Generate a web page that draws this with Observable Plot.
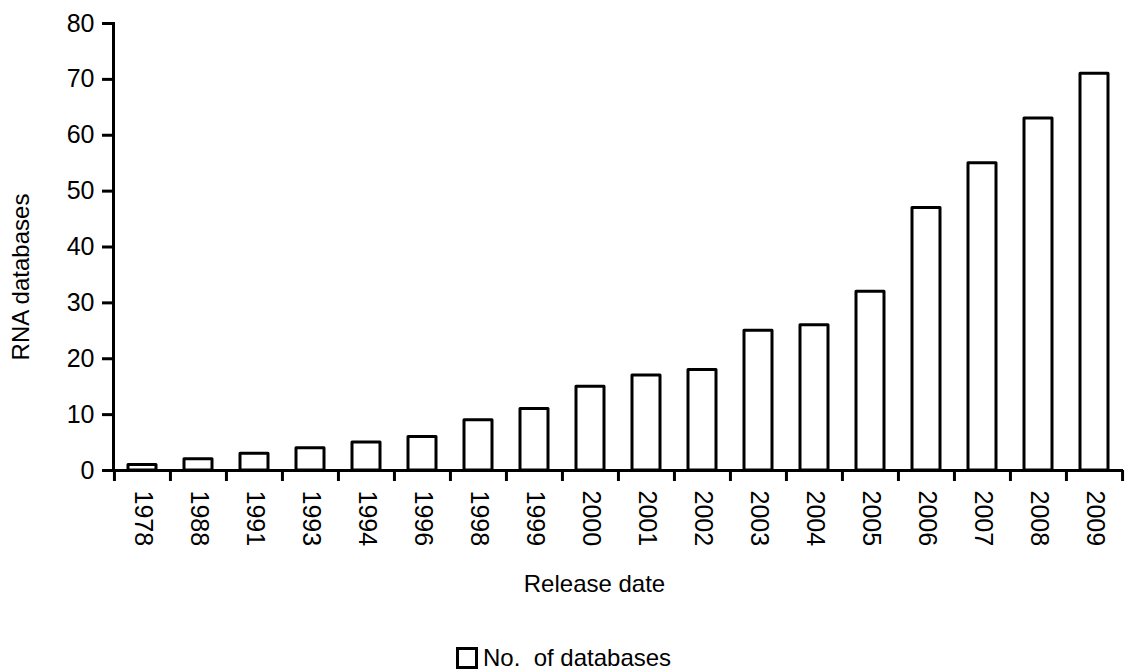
<!DOCTYPE html>
<html>
<head>
<meta charset="utf-8">
<script src="https://cdn.jsdelivr.net/npm/d3@7"></script>
<script src="https://cdn.jsdelivr.net/npm/@observablehq/plot@0.6"></script>
<style>
  html, body { margin: 0; padding: 0; background: #fff; }
  body { width: 1128px; height: 670px; overflow: hidden; font-family: "Liberation Sans", Arial, sans-serif; }
  #legend { position: relative; height: 30px; }
  #legend .item { position: absolute; left: 456px; top: 5px; display: flex; align-items: center; font-size: 24px; line-height: 25px; color: #000; }
  #legend .swatch { width: 16px; height: 16px; border: 3px solid #000; background: #fff; margin-right: 5px; }
</style>
</head>
<body>
<div id="chart"></div>
<div id="legend"><div class="item"><span class="swatch"></span><span>No.&nbsp; of databases</span></div></div>
<script>
const years = ["1978","1988","1991","1993","1994","1996","1998","1999","2000","2001","2002","2003","2004","2005","2006","2007","2008","2009"];
const counts = [1,2,3,4,5,6,9,11,15,17,18,25,26,32,47,55,63,71];
const yTicks = [0,10,20,30,40,50,60,70,80];
const xTitle = "Release date";
const yTitle = "RNA databases";

const data = years.map((y, i) => ({year: y, count: counts[i]}));
const step = (1128 - 113 - 5) / years.length;

const chart = Plot.plot({
  width: 1128,
  height: 640,
  marginLeft: 113,
  marginRight: 5,
  marginTop: 23,
  marginBottom: 170,
  style: {fontFamily: '"Liberation Sans", Arial, sans-serif', fontSize: "25px", color: "#000", background: "#fff"},
  x: {domain: years, paddingInner: 0.5, paddingOuter: 0.25, axis: null},
  y: {domain: [0, 80], axis: null},
  marks: [
    Plot.barY(data, {x: "year", y: "count", fill: "white", stroke: "black", strokeWidth: 3, strokeLinejoin: "round"}),
    Plot.ruleY([0], {stroke: "black", strokeWidth: 3}),
    Plot.frame({anchor: "left", stroke: "black", strokeWidth: 3}),
    Plot.axisY({ticks: yTicks, tickSize: 11, tickPadding: 8, strokeWidth: 3, label: null, fontSize: 25}),
    Plot.axisX({ticks: years, tickSize: 0, tickPadding: 20, tickRotate: 90, label: null, fontSize: 25}),
    Plot.axisX({ticks: years, tickSize: 11, text: null, label: null, strokeWidth: 3, dx: -step / 2}),
    Plot.axisX({ticks: [years[years.length - 1]], tickSize: 11, text: null, label: null, strokeWidth: 3, dx: step / 2}),
    Plot.text([xTitle], {frameAnchor: "bottom", dy: 121, dx: -24, fontSize: 24}),
    Plot.text([yTitle], {frameAnchor: "left", textAnchor: "middle", dx: -92, dy: 30, rotate: -90, fontSize: 24})
  ]
});
document.getElementById("chart").appendChild(chart);
</script>
</body>
</html>
